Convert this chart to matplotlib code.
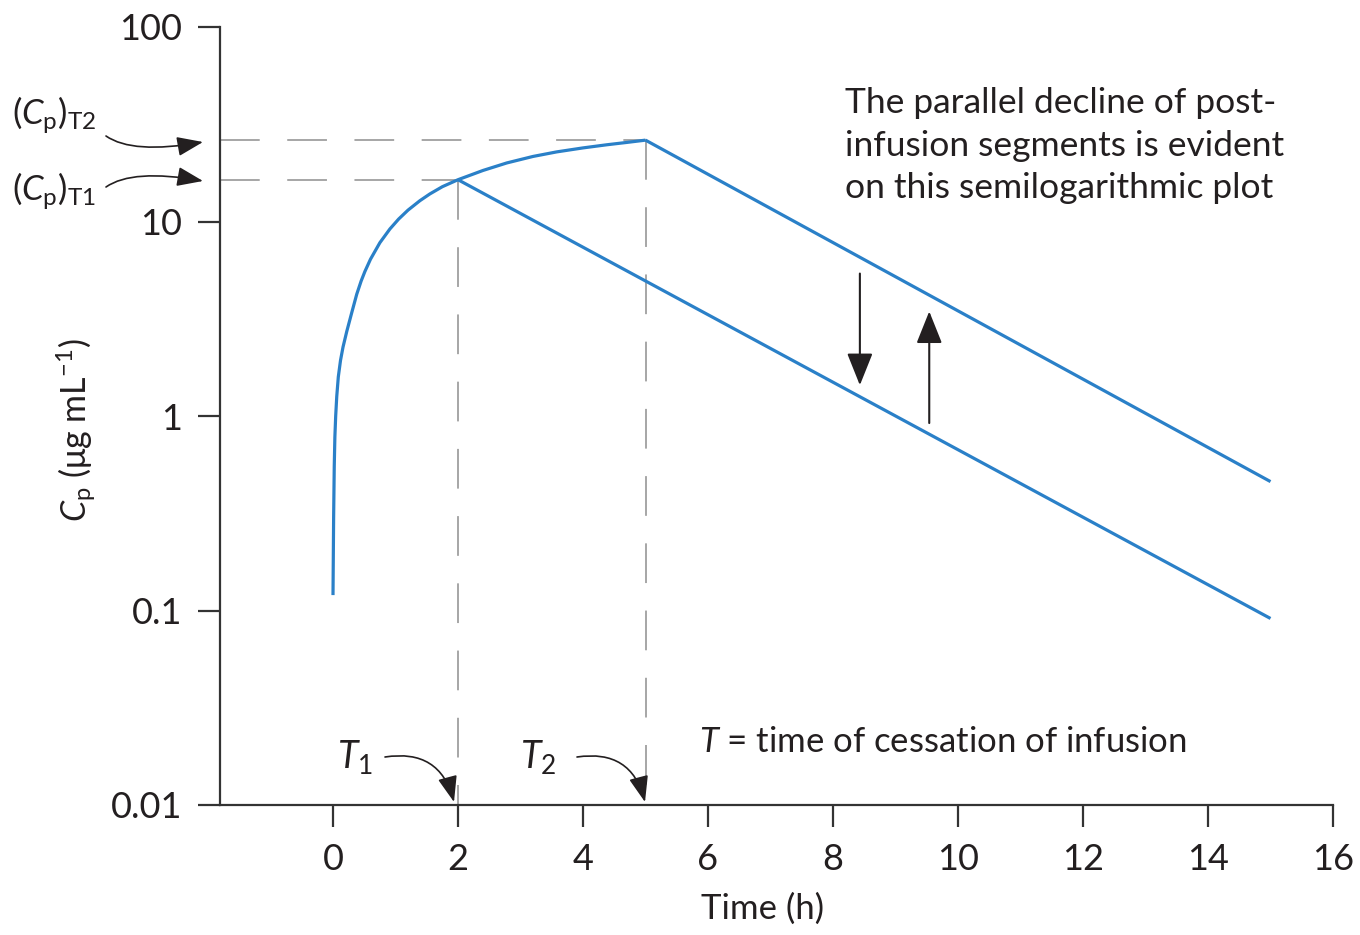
import matplotlib
matplotlib.use("Agg")
import matplotlib.pyplot as plt
from matplotlib.patches import FancyArrowPatch
from matplotlib.transforms import Affine2D

# ---------------- data ----------------
infusion_t = [0.0, 0.005, 0.01, 0.02, 0.03, 0.043, 0.06, 0.085, 0.12, 0.16, 0.22, 0.3,
              0.38, 0.45, 0.51, 0.6, 0.75, 0.91, 1.05, 1.2, 1.39, 1.55, 1.75, 2.0,
              2.4, 2.78, 3.2, 3.58, 4.0, 4.38, 4.7, 5.0]
infusion_c = [0.12, 0.19, 0.3, 0.55, 0.78, 1.0, 1.26, 1.59, 1.93, 2.26, 2.72, 3.4,
              4.23, 4.94, 5.53, 6.4, 7.78, 9.15, 10.29, 11.44, 12.79, 13.86, 15.1, 16.4,
              18.3, 20.0, 21.6, 22.8, 23.9, 24.8, 25.5, 26.2]
decline1_t = [2.0, 15.0]
decline1_c = [16.4, 0.091]
decline2_t = [5.0, 15.0]
decline2_c = [26.2, 0.46]
T1, T2 = 2.0, 5.0
cp_T1, cp_T2 = 16.4, 26.2
down_arrow = (8.43, 5.4, 1.44)   # x, from, to
up_arrow = (9.54, 0.92, 3.45)
x_ticks = [0, 2, 4, 6, 8, 10, 12, 14, 16]
y_ticks = [0.01, 0.1, 1, 10, 100]
y_ticklabels = ["0.01", "0.1", "1", "10", "100"]

# ---------------- style ----------------
plt.rcParams["font.family"] = ["Lato", "DejaVu Sans"]
plt.rcParams["mathtext.fontset"] = "custom"
plt.rcParams["mathtext.rm"] = "Lato"
plt.rcParams["mathtext.it"] = "Lato:italic"
plt.rcParams["mathtext.bf"] = "Lato:bold"
plt.rcParams["mathtext.sf"] = "Lato"
TXT = "#231f20"
BLUE = "#2a80c8"
GRAY = "#8e8e8e"

W, H = 1360, 935
fig = plt.figure(figsize=(W / 100, H / 100), dpi=100)
ax = fig.add_axes([220 / W, (H - 805) / H, (1333 - 220) / W, (805 - 27) / H])

def fp(x, y):
    return (x / W, 1 - y / H)

ax.set_yscale("log")
ax.set_xlim(-1.808, 16)
ax.set_ylim(0.01, 100)

for s in ["top", "right"]:
    ax.spines[s].set_visible(False)
for s in ["left", "bottom"]:
    ax.spines[s].set_linewidth(1.6)
    ax.spines[s].set_color("#333333")

ax.set_xticks(x_ticks)
ax.set_xticklabels([str(v) for v in x_ticks])
ax.set_yticks(y_ticks)
ax.set_yticklabels(y_ticklabels)
ax.yaxis.set_minor_locator(matplotlib.ticker.NullLocator())
ax.tick_params(axis="both", which="major", length=16, width=1.6, color="#333333",
               labelsize=26, labelcolor=TXT, pad=11)

# dashed guide lines
dash = dict(color=GRAY, lw=1.1, dashes=(26, 18), zorder=1)
ax.plot([ax.get_xlim()[0], T1], [cp_T1, cp_T1], **dash)
ax.plot([ax.get_xlim()[0], T2], [cp_T2, cp_T2], **dash)
ax.plot([T1, T1], [cp_T1, 0.01], **dash)
ax.plot([T2, T2], [cp_T2, 0.01], **dash)

# curves
lw_c = 2.3
ax.plot(infusion_t, infusion_c, color=BLUE, lw=lw_c, solid_capstyle="butt",
        solid_joinstyle="round", zorder=3)
ax.plot(decline1_t, decline1_c, color=BLUE, lw=lw_c, solid_capstyle="butt", zorder=3)
ax.plot(decline2_t, decline2_c, color=BLUE, lw=lw_c, solid_capstyle="butt", zorder=3)

# vertical arrows
astyle = dict(arrowstyle="-|>,head_length=1.0,head_width=0.4", color=TXT, lw=1.5,
              mutation_scale=20, shrinkA=0, shrinkB=0)
ax.annotate("", xy=(down_arrow[0], down_arrow[2]), xytext=(down_arrow[0], down_arrow[1]),
            arrowprops=astyle)
ax.annotate("", xy=(up_arrow[0], up_arrow[2]), xytext=(up_arrow[0], up_arrow[1]),
            arrowprops=astyle)

# curved pointer arrows, placed in figure pixel positions (origin top-left)
pixtrans = Affine2D().scale(1.0 / W, 1.0 / H) + fig.transFigure
pointers = [((106, 136), (203, 142), "angle3,angleA=-35,angleB=10"),
            ((106, 187), (203, 181), "angle3,angleA=35,angleB=-10"),
            ((385, 757), (454, 802), "arc3,rad=-0.45"),
            ((577, 757), (645, 802), "arc3,rad=-0.45")]
for tail, tip, conn in pointers:
    p = FancyArrowPatch((tail[0], H - tail[1]), (tip[0], H - tip[1]),
                        transform=pixtrans, connectionstyle=conn,
                        arrowstyle="-|>,head_length=0.8,head_width=0.3",
                        mutation_scale=20, lw=1.2, color=TXT,
                        shrinkA=0, shrinkB=0)
    fig.add_artist(p)

# labels
ax.set_xlabel("Time (h)", fontsize=25, color=TXT)
ax.xaxis.set_label_coords((763 - 220) / (1333 - 220), (805 - 893) / 778)
ax.set_ylabel(r"$C_{\mathrm{p}}$ (μg mL$^{\mathrm{-1}}$)", fontsize=24.5, color=TXT)
ax.yaxis.set_label_coords((98 - 220) / (1333 - 220), (805 - 430) / 778)

fig.text(*fp(12, 125), r"$(C_{\mathrm{p}})_{\mathrm{T2}}$", fontsize=25, color=TXT, va="baseline")
fig.text(*fp(12, 201), r"$(C_{\mathrm{p}})_{\mathrm{T1}}$", fontsize=25, color=TXT, va="baseline")
fig.text(*fp(337, 768), r"$T_{\mathrm{1}}$", fontsize=27, color=TXT, va="baseline")
fig.text(*fp(520, 768), r"$T_{\mathrm{2}}$", fontsize=27, color=TXT, va="baseline")
fig.text(*fp(699, 752), r"$T$ = time of cessation of infusion", fontsize=25, color=TXT, va="baseline")
for i, line in enumerate(["The parallel decline of post-",
                          "infusion segments is evident",
                          "on this semilogarithmic plot"]):
    fig.text(*fp(845, 113 + 42.5 * i), line, fontsize=25.5, color=TXT, va="baseline")

fig.savefig("out.png", dpi=100)
